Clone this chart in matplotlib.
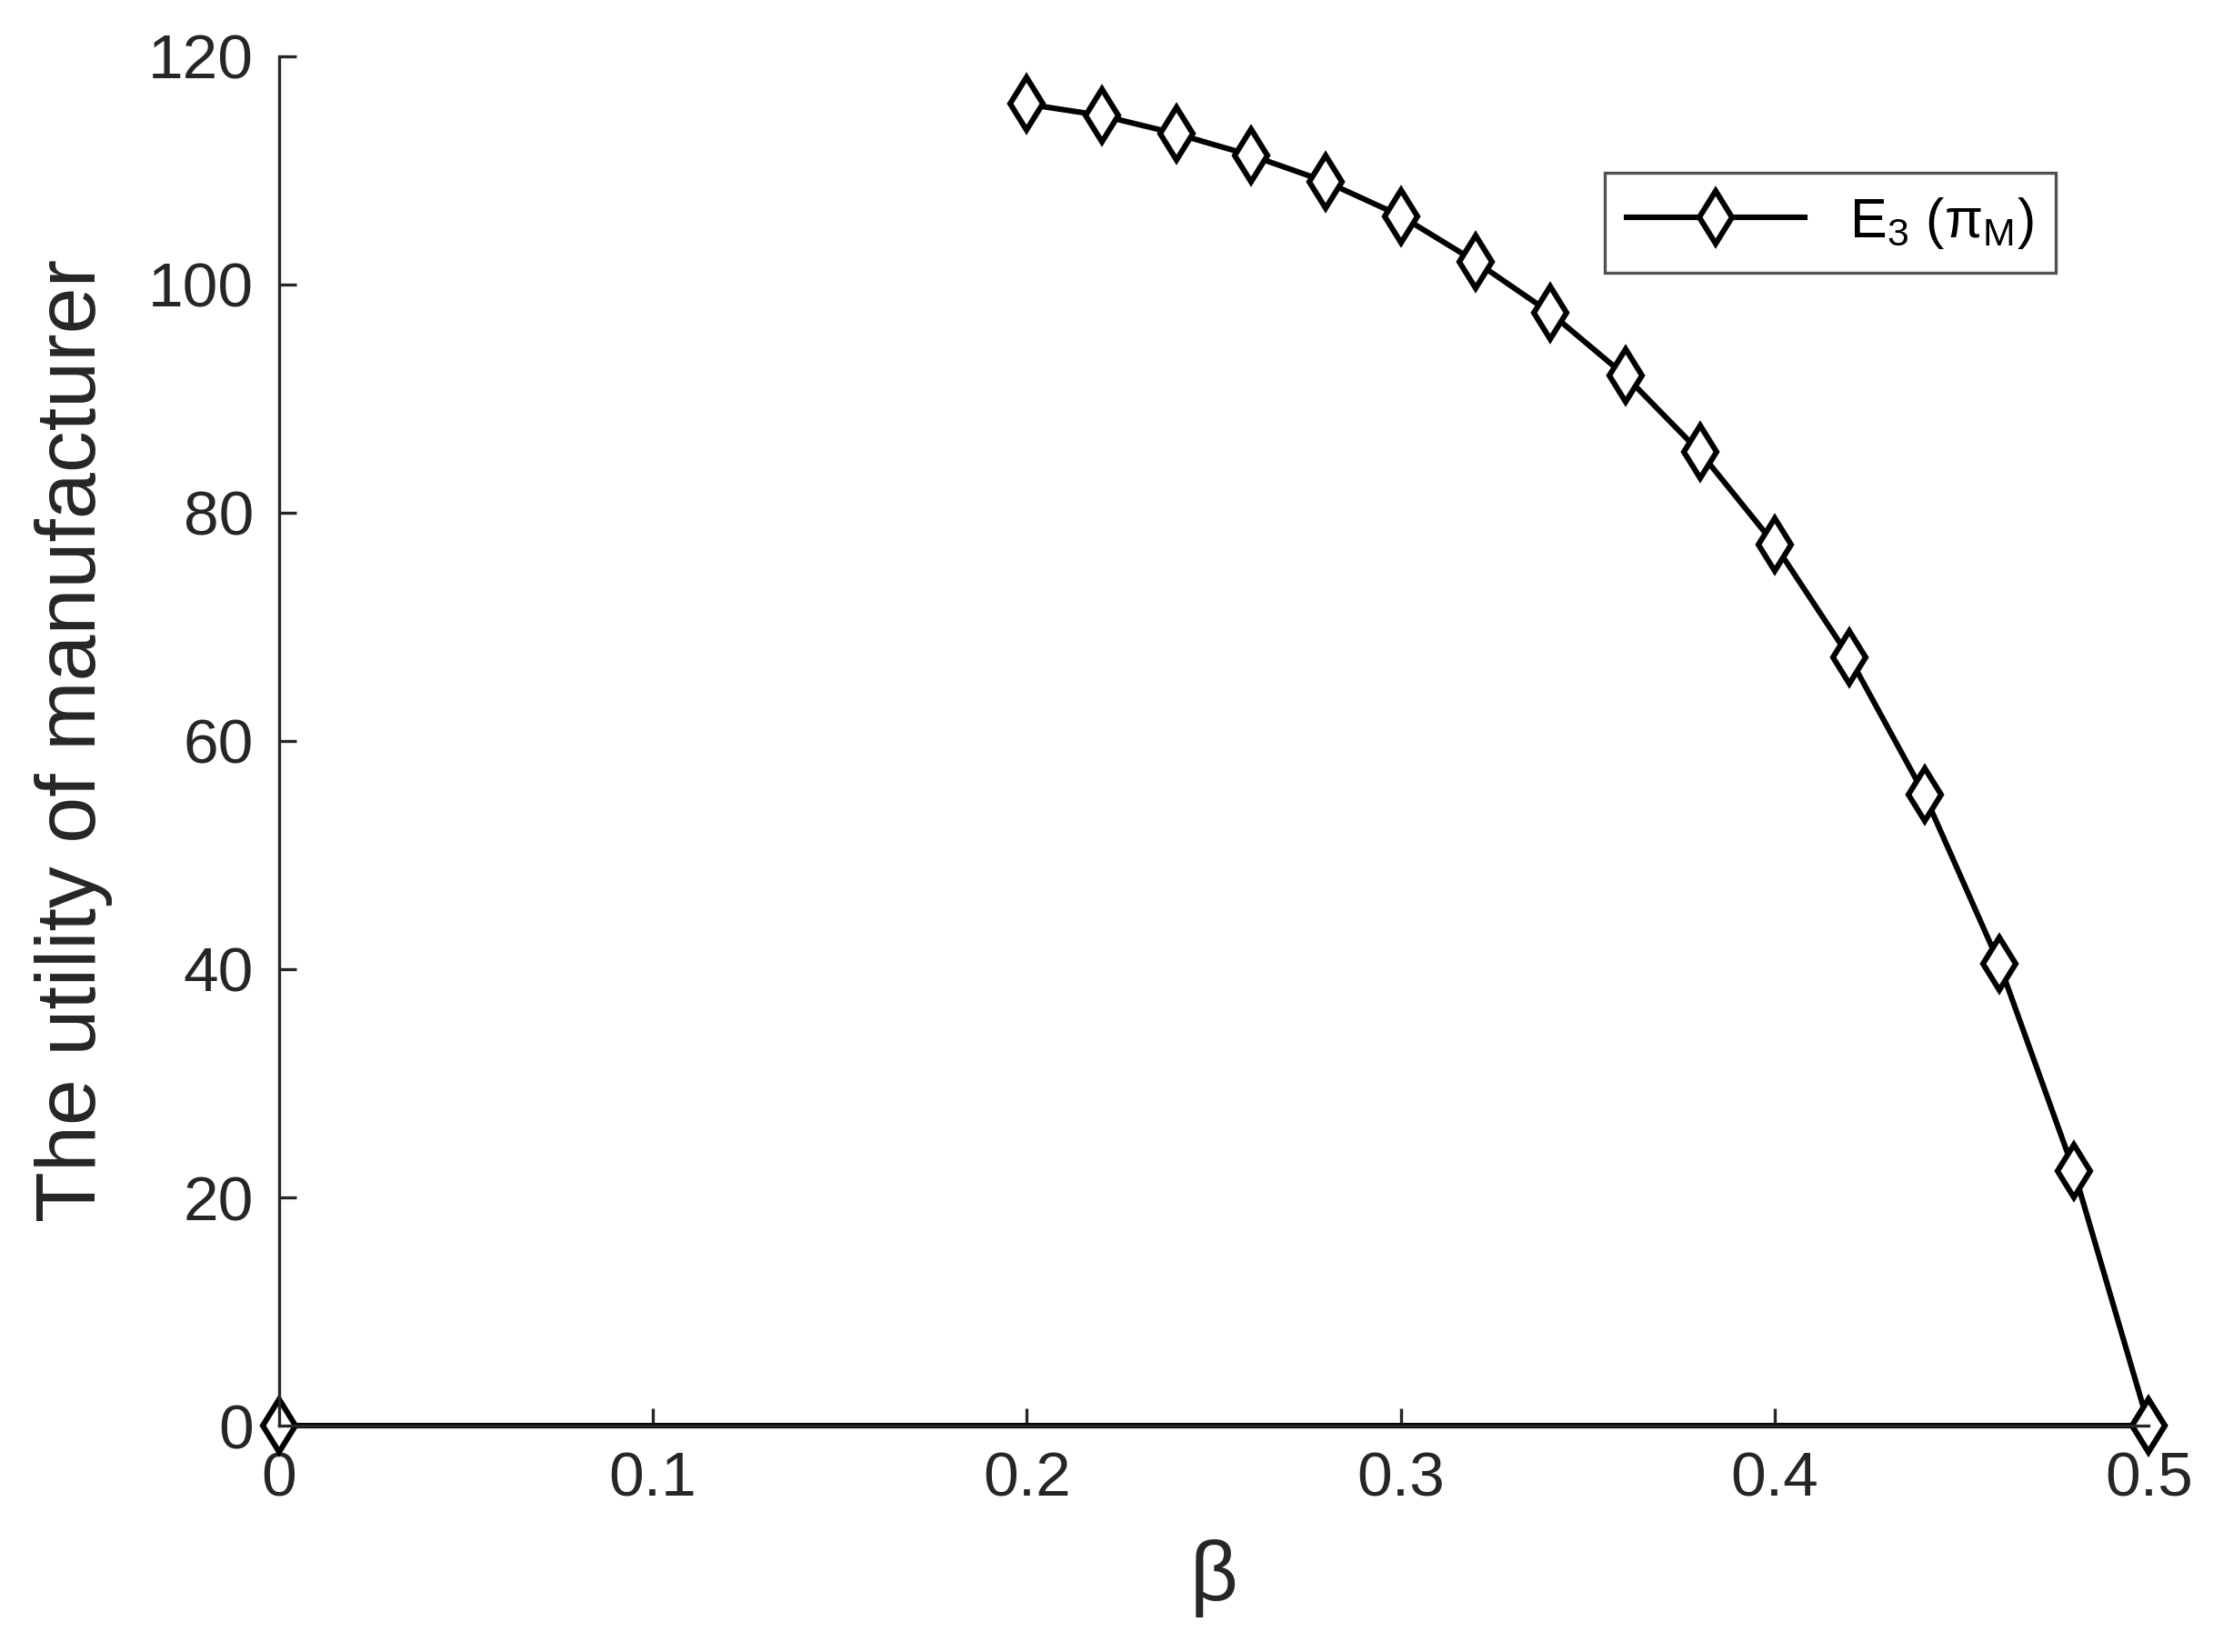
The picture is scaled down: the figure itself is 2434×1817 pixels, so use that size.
import matplotlib
matplotlib.use("Agg")
import matplotlib.pyplot as plt

plt.rcParams['font.family'] = ['Liberation Sans', 'DejaVu Sans']
plt.rcParams['mathtext.fontset'] = 'custom'
plt.rcParams['mathtext.rm'] = 'Liberation Sans'

beta = [0.20, 0.22, 0.24, 0.26, 0.28, 0.30, 0.32, 0.34, 0.36, 0.38,
        0.40, 0.42, 0.44, 0.46, 0.48, 0.50]
utility = [115.8, 114.8, 113.2, 111.3, 109.0, 106.0, 102.0, 97.5, 92.0, 85.3,
           77.2, 67.3, 55.3, 40.5, 22.3, 0.0]
base_x = [0.0, 0.5]
base_y = [0.0, 0.0]

fig = plt.figure(figsize=(12.17, 9.085), dpi=200)
ax = fig.add_axes([0.126, 0.137, 0.845, 0.829])

mk = dict(color='black', lw=2.2, marker='d', markersize=15, clip_on=False,
          markerfacecolor='white', markeredgecolor='black', markeredgewidth=2.2)
ax.plot(base_x, base_y, **mk)
ax.plot(beta, utility, label=r'E$_{\rm 3}$ (π$_{\rm M}$)', **mk)

ax.set_xlim(0, 0.5)
ax.set_ylim(0, 120)
ax.set_xticks([0, 0.1, 0.2, 0.3, 0.4, 0.5])
ax.set_xticklabels(['0', '0.1', '0.2', '0.3', '0.4', '0.5'])
ax.set_yticks(range(0, 121, 20))
ax.tick_params(labelsize=25, colors='#262626', direction='in', length=7, width=1.2, pad=10)
for s in ['top', 'right']:
    ax.spines[s].set_visible(False)
for s in ['left', 'bottom']:
    ax.spines[s].set_color('#262626')
    ax.spines[s].set_linewidth(1.2)
ax.set_xlabel('β', fontsize=33, color='#262626', labelpad=12)
ax.set_ylabel('The utility of manufacturer', fontsize=33, color='#262626', labelpad=14)

leg = ax.legend(loc='upper right', bbox_to_anchor=(0.965, 0.935), fontsize=22,
                fancybox=False, edgecolor='#262626', handlelength=3.2)
leg.get_frame().set_linewidth(1.2)

fig.savefig('out.png', dpi=200)
